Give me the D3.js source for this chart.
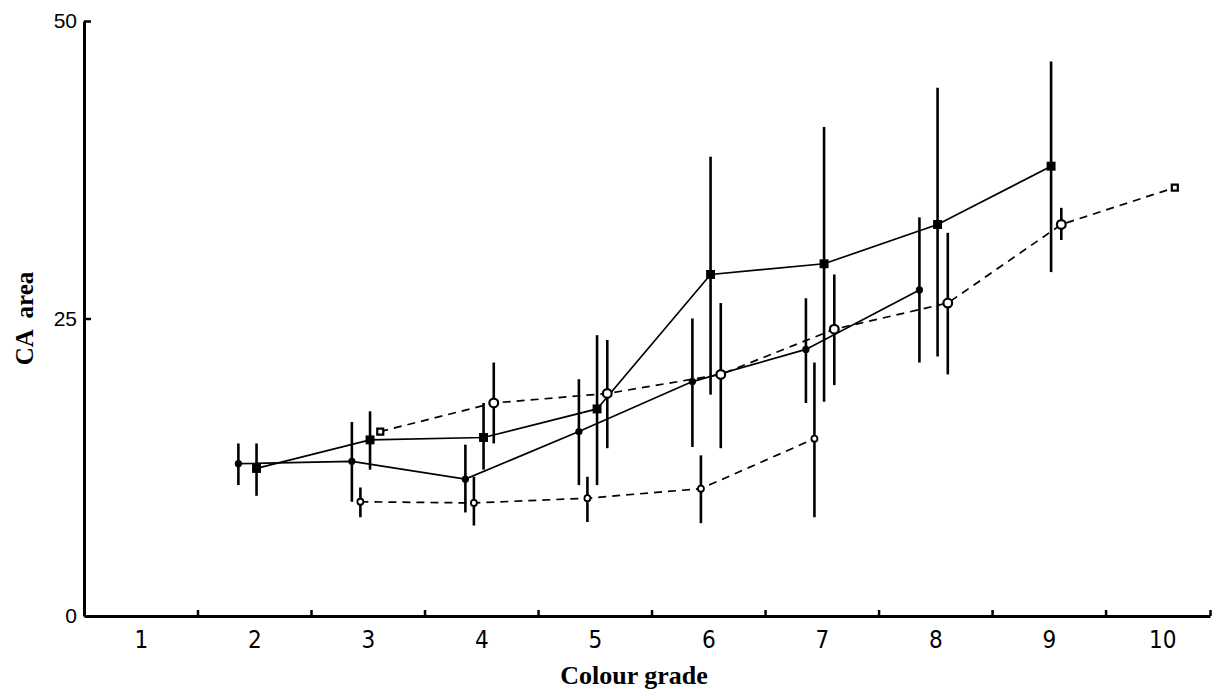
<!DOCTYPE html>
<html>
<head>
<meta charset="utf-8">
<script src="https://cdn.jsdelivr.net/npm/d3@7"></script>
<style>
  body { margin: 0; background: #fff; }
  svg { display: block; }
</style>
</head>
<body>
<svg></svg>
<script>
(function (d3) {
    'use strict';

    // values
    const gradesA = [2, 3, 4, 5, 6, 7, 8];
    const meanA = [12.8, 13.0, 11.5, 15.5, 19.7, 22.4, 27.4];
    const loA = [11.0, 9.6, 8.7, 11.0, 14.2, 17.9, 21.3];
    const hiA = [14.5, 16.3, 14.4, 19.9, 25.0, 26.7, 33.5];

    const gradesB = [2, 3, 4, 5, 6, 7, 8, 9];
    const meanB = [12.4, 14.8, 15.0, 17.4, 28.7, 29.6, 32.9, 37.8];
    const loB = [10.1, 12.3, 12.3, 11.0, 18.6, 18.0, 21.8, 28.9];
    const hiB = [14.5, 17.2, 17.9, 23.6, 38.6, 41.1, 44.4, 46.6];

    const gradesC = [3, 4, 5, 6, 7, 8, 9, 10];
    const meanC = [15.5, 17.9, 18.7, 20.3, 24.1, 26.3, 32.9, 36.0];
    const loC = [null, 14.5, 14.1, 14.1, 19.4, 20.3, 31.6, null];
    const hiC = [null, 21.3, 23.2, 26.3, 28.7, 32.2, 34.3, null];

    const gradesD = [3, 4, 5, 6, 7];
    const meanD = [9.6, 9.5, 9.9, 10.7, 14.9];
    const loD = [8.3, 7.6, 7.9, 7.8, 8.3];
    const hiD = [10.8, 11.7, 11.7, 13.5, 21.3];

    const gradeLabels = [1, 2, 3, 4, 5, 6, 7, 8, 9, 10];
    const halfTicks = [1.5, 2.5, 3.5, 4.5, 5.5, 6.5, 7.5, 8.5, 9.5];
    const yTicks = [0, 25, 50];

    const width = 1213;
    const height = 691;

    const svg = d3.select('svg')
        .attr('width', width)
        .attr('height', height);

    const x = d3.scaleLinear().domain([0.5, 10.42]).range([84, 1210]);
    const y = d3.scaleLinear().domain([0, 50]).range([616, 21]);

    const zip = (g, m, lo, hi) => g.map((v, i) => ({grade: v, mean: m[i], lo: lo[i], hi: hi[i]}));

    const series = [
        {rows: zip(gradesA, meanA, loA, hiA), shift: -0.14, dash: null, mark: 'dot'},
        {rows: zip(gradesB, meanB, loB, hiB), shift: 0.02, dash: null, mark: 'square'},
        {rows: zip(gradesC, meanC, loC, hiC), shift: 0.11, dash: '8,6', mark: 'ring'},
        {rows: zip(gradesD, meanD, loD, hiD), shift: -0.065, dash: '8,6', mark: 'smallring'}
    ];

    // axes
    const yAxis = svg.append('g')
        .attr('transform', `translate(${x(0.5)},0)`)
        .call(d3.axisLeft(y).tickValues(yTicks).tickSizeInner(-7).tickSizeOuter(0).tickPadding(7));
    yAxis.select('.domain').attr('stroke-width', 3);
    yAxis.selectAll('.tick line').attr('stroke-width', 2.5);
    yAxis.selectAll('.tick').filter(d => d === 0).select('line').remove();
    yAxis.selectAll('text')
        .attr('font-family', '"Liberation Sans", Arial, sans-serif')
        .attr('font-size', 21);

    const xTicks = svg.append('g')
        .attr('transform', `translate(0,${y(0)})`)
        .call(d3.axisBottom(x).tickValues(halfTicks.concat([10.42])).tickSizeInner(-6).tickSizeOuter(0).tickFormat(''));
    xTicks.select('.domain').attr('stroke-width', 3);
    xTicks.selectAll('.tick line').attr('stroke-width', 2.5);

    const xLabels = svg.append('g')
        .attr('transform', `translate(0,${y(0)})`)
        .call(d3.axisBottom(x).tickValues(gradeLabels).tickSize(0).tickPadding(15).tickFormat(d3.format('d')));
    xLabels.select('.domain').remove();
    xLabels.selectAll('text')
        .attr('font-family', '"Liberation Sans Narrow", "DejaVu Sans Condensed", Arial, sans-serif')
        .attr('font-size', 24);

    svg.append('text')
        .attr('x', 634)
        .attr('y', 684)
        .attr('text-anchor', 'middle')
        .attr('font-family', '"Liberation Serif", "Times New Roman", serif')
        .attr('font-weight', 'bold')
        .attr('font-size', 26)
        .text('Colour grade');

    svg.append('text')
        .attr('transform', `translate(33,${y(25)}) rotate(-90)`)
        .attr('text-anchor', 'middle')
        .attr('font-family', '"Liberation Serif", "Times New Roman", serif')
        .attr('font-weight', 'bold')
        .attr('font-size', 25)
        .attr('word-spacing', 6)
        .text('CA area');

    const plot = svg.append('g');

    const line = s => d3.line()
        .x(d => x(d.grade + s.shift))
        .y(d => y(d.mean));

    series.forEach(s => {
        plot.append('path')
            .datum(s.rows)
            .attr('fill', 'none')
            .attr('stroke', '#000')
            .attr('stroke-width', 1.7)
            .attr('stroke-dasharray', s.dash)
            .attr('d', line(s));
    });

    series.forEach(s => {
        plot.selectAll(null)
            .data(s.rows.filter(d => d.lo != null))
            .enter().append('line')
            .attr('x1', d => x(d.grade + s.shift))
            .attr('x2', d => x(d.grade + s.shift))
            .attr('y1', d => y(d.lo))
            .attr('y2', d => y(d.hi))
            .attr('stroke', '#000')
            .attr('stroke-width', 2.6);
    });

    series.forEach(s => {
        const last = s.rows.length - 1;
        const pts = plot.selectAll(null)
            .data(s.rows)
            .enter();
        if (s.mark === 'square') {
            pts.append('path')
                .attr('transform', d => `translate(${x(d.grade + s.shift)},${y(d.mean)})`)
                .attr('d', d3.symbol(d3.symbolSquare, 80))
                .attr('fill', '#000');
        } else if (s.mark === 'dot') {
            pts.append('circle')
                .attr('cx', d => x(d.grade + s.shift))
                .attr('cy', d => y(d.mean))
                .attr('r', 3.6)
                .attr('fill', '#000');
        } else if (s.mark === 'ring') {
            // end points of this series are small open squares, the rest rings
            pts.append('path')
                .attr('transform', d => `translate(${x(d.grade + s.shift)},${y(d.mean)})`)
                .attr('d', (d, i) => (i === 0 || i === last)
                    ? d3.symbol(d3.symbolSquare, 36)()
                    : d3.symbol(d3.symbolCircle, 60)())
                .attr('fill', '#fff')
                .attr('stroke', '#000')
                .attr('stroke-width', 2.2);
        } else {
            pts.append('circle')
                .attr('cx', d => x(d.grade + s.shift))
                .attr('cy', d => y(d.mean))
                .attr('r', 3)
                .attr('fill', '#fff')
                .attr('stroke', '#000')
                .attr('stroke-width', 1.8);
        }
    });
}(d3));
</script>
</body>
</html>
